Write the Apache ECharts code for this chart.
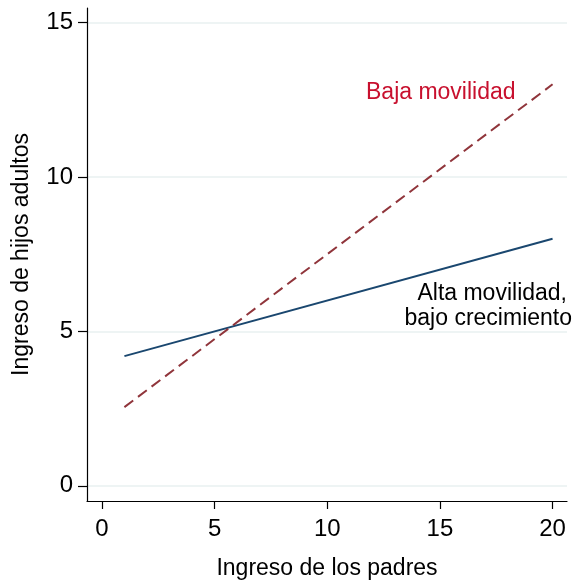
<!DOCTYPE html>
<html><head><meta charset="utf-8">
<script src="https://cdn.jsdelivr.net/npm/echarts@6/dist/echarts.min.js"></script>
<style>html,body{margin:0;padding:0;background:#fff}#c{width:577px;height:580px}</style>
</head><body><div id="c"></div>
<script>
const xVals = [1, 20];
const altaMovilidad = [4.2, 8.0];
const bajaMovilidad = [2.55, 13.0];
const xTicks = [0, 5, 10, 15, 20];
const yTicks = [0, 5, 10, 15];
const FONT = "'Liberation Sans', Arial, Helvetica, sans-serif";

const chart = echarts.init(document.getElementById('c'));
chart.setOption({
  animation: false,
  grid: {left: 87, right: 10, top: 8, bottom: 79, containLabel: false, outerBoundsMode: 'none'},
  xAxis: {
    type: 'value', min: -0.66, max: 20.64,
    name: 'Ingreso de los padres', nameLocation: 'middle', nameGap: 56,
    nameTextStyle: {fontFamily: FONT, fontSize: 23, color: '#000'},
    axisLine: {onZero: false, lineStyle: {color: '#000', width: 1.2}},
    axisTick: {show: true, length: 8, customValues: xTicks, lineStyle: {color: '#000', width: 1.2}},
    axisLabel: {customValues: xTicks, fontFamily: FONT, fontSize: 24, color: '#000', margin: 16},
    splitLine: {show: false}
  },
  yAxis: {
    type: 'value', min: -0.49, max: 15.47,
    name: 'Ingreso de hijos adultos', nameLocation: 'middle', nameGap: 54, nameRotate: 90,
    nameTextStyle: {fontFamily: FONT, fontSize: 23, color: '#000'},
    axisLine: {show: true, onZero: false, lineStyle: {color: '#000', width: 1.2}},
    axisTick: {show: true, length: 9, customValues: yTicks, lineStyle: {color: '#000', width: 1.2}},
    axisLabel: {customValues: yTicks, fontFamily: FONT, fontSize: 24, color: '#000', margin: 14},
    splitLine: {show: false}
  },
  series: [
    {
      type: 'line', data: xVals.map((x, i) => [x, altaMovilidad[i]]),
      symbol: 'none', lineStyle: {color: '#1a476f', width: 2},
      markLine: {
        silent: true, symbol: 'none', label: {show: false},
        lineStyle: {color: '#e8f0f1', width: 1.5, type: 'solid'},
        data: yTicks.map(v => ({yAxis: v})), z: 0
      },
      z: 3
    },
    {
      type: 'line', data: xVals.map((x, i) => [x, bajaMovilidad[i]]),
      symbol: 'none', lineStyle: {color: '#90353b', width: 2, type: [11, 6]},
      z: 3
    }
  ],
  graphic: [
    {type: 'text', left: 366, top: 81, style: {text: 'Baja movilidad', fill: '#c8102e', font: '23px ' + FONT}},
    {type: 'text', right: 10, top: 282, style: {text: 'Alta movilidad,', fill: '#000', font: '23px ' + FONT, textAlign: 'right'}},
    {type: 'text', right: 5, top: 307, style: {text: 'bajo crecimiento', fill: '#000', font: '23px ' + FONT, textAlign: 'right'}}
  ]
});
</script></body></html>
